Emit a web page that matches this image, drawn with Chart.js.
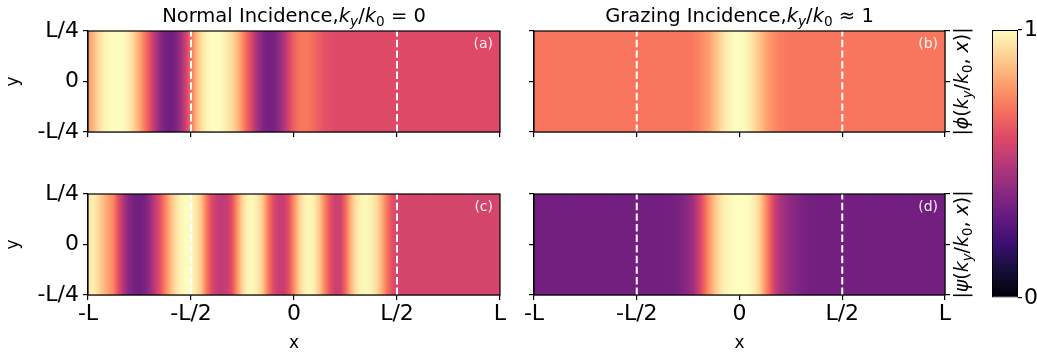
<!DOCTYPE html>
<html>
<head>
<meta charset="utf-8">
<script src="https://cdn.jsdelivr.net/npm/chart.js@4.4.1/dist/chart.umd.min.js"></script>
<style>
  html, body { margin: 0; padding: 0; background: #fff; }
  #wrap { position: relative; width: 1037px; height: 357px; }
  #wrap canvas { position: absolute; left: 0; top: 0; }
</style>
</head>
<body>
<div id="wrap">
  <canvas id="panelA" width="1037" height="357"></canvas>
  <canvas id="panelB" width="1037" height="357"></canvas>
  <canvas id="panelC" width="1037" height="357"></canvas>
  <canvas id="panelD" width="1037" height="357"></canvas>
  <canvas id="cbar" width="1037" height="357"></canvas>
</div>
<script>
// sample positions along x, in units of L
const xPos = [-1, -0.975, -0.95, -0.925, -0.9, -0.875, -0.85, -0.825, -0.8, -0.775,
  -0.75, -0.725, -0.7, -0.675, -0.65, -0.625, -0.6, -0.575, -0.55, -0.525,
  -0.5, -0.475, -0.45, -0.425, -0.4, -0.375, -0.35, -0.325, -0.3, -0.275,
  -0.25, -0.225, -0.2, -0.175, -0.15, -0.125, -0.1, -0.075, -0.05, -0.025,
  0, 0.025, 0.05, 0.075, 0.1, 0.125, 0.15, 0.175, 0.2, 0.225,
  0.25, 0.275, 0.3, 0.325, 0.35, 0.375, 0.4, 0.425, 0.45, 0.475,
  0.5, 0.525, 0.55, 0.575, 0.6, 0.625, 0.65, 0.675, 0.7, 0.725,
  0.75, 0.775, 0.8, 0.825, 0.85, 0.875, 0.9, 0.925, 0.95, 0.975, 1];

// (a) |phi|, normal incidence
const phiNormal = [0.78, 0.85, 0.92, 0.97, 0.99, 1.00, 1.00, 0.99, 0.96, 0.90,
  0.82, 0.72, 0.62, 0.50, 0.40, 0.34, 0.33, 0.36, 0.44, 0.56,
  0.70, 0.84, 0.93, 0.98, 1.00, 1.00, 0.99, 0.96, 0.92, 0.86,
  0.76, 0.66, 0.56, 0.44, 0.37, 0.34, 0.35, 0.40, 0.48, 0.58,
  0.66, 0.71, 0.72, 0.71, 0.68, 0.65, 0.62, 0.61, 0.60, 0.60,
  0.60, 0.60, 0.60, 0.60, 0.60, 0.60, 0.60, 0.60, 0.60, 0.60,
  0.60, 0.60, 0.60, 0.60, 0.60, 0.60, 0.60, 0.60, 0.60, 0.60,
  0.60, 0.60, 0.60, 0.60, 0.60, 0.60, 0.60, 0.60, 0.60, 0.60, 0.60];

// (b) |phi|, grazing incidence
const phiGrazing = [0.71, 0.71, 0.71, 0.71, 0.71, 0.71, 0.71, 0.71, 0.71, 0.71,
  0.71, 0.71, 0.71, 0.71, 0.71, 0.71, 0.71, 0.71, 0.71, 0.71,
  0.71, 0.71, 0.71, 0.71, 0.71, 0.71, 0.71, 0.71, 0.71, 0.71,
  0.71, 0.72, 0.74, 0.77, 0.80, 0.85, 0.90, 0.95, 0.98, 1.00,
  1.00, 0.99, 0.96, 0.92, 0.87, 0.82, 0.78, 0.75, 0.73, 0.72,
  0.71, 0.71, 0.71, 0.71, 0.71, 0.71, 0.71, 0.71, 0.71, 0.71,
  0.71, 0.71, 0.71, 0.71, 0.71, 0.71, 0.71, 0.71, 0.71, 0.71,
  0.71, 0.71, 0.71, 0.71, 0.71, 0.71, 0.71, 0.71, 0.71, 0.71, 0.71];

// (c) |psi|, normal incidence
const psiNormal = [0.95, 0.97, 0.92, 0.86, 0.80, 0.74, 0.60, 0.47, 0.38, 0.34,
  0.33, 0.35, 0.42, 0.52, 0.62, 0.74, 0.85, 0.93, 0.98, 1.00,
  0.99, 0.95, 0.88, 0.72, 0.60, 0.54, 0.52, 0.54, 0.62, 0.78,
  0.92, 0.98, 0.99, 0.95, 0.88, 0.72, 0.60, 0.54, 0.54, 0.62,
  0.76, 0.90, 0.97, 0.99, 0.96, 0.88, 0.74, 0.62, 0.55, 0.56,
  0.68, 0.84, 0.94, 0.98, 0.99, 0.97, 0.93, 0.84, 0.72, 0.62,
  0.58, 0.575, 0.575, 0.575, 0.575, 0.575, 0.575, 0.575, 0.575, 0.575,
  0.575, 0.575, 0.575, 0.575, 0.575, 0.575, 0.575, 0.575, 0.575, 0.575, 0.575];

// (d) |psi|, grazing incidence
const psiGrazing = [0.335, 0.335, 0.335, 0.335, 0.335, 0.335, 0.335, 0.335, 0.335, 0.335,
  0.335, 0.335, 0.335, 0.335, 0.335, 0.335, 0.335, 0.335, 0.335, 0.335,
  0.335, 0.335, 0.335, 0.335, 0.335, 0.335, 0.335, 0.34, 0.35, 0.37,
  0.40, 0.45, 0.54, 0.65, 0.77, 0.86, 0.93, 0.97, 0.99, 1.00,
  1.00, 1.00, 0.99, 0.96, 0.90, 0.78, 0.66, 0.54, 0.47, 0.43,
  0.40, 0.38, 0.36, 0.345, 0.335, 0.335, 0.335, 0.335, 0.335, 0.335,
  0.335, 0.335, 0.335, 0.335, 0.335, 0.335, 0.335, 0.335, 0.335, 0.335,
  0.335, 0.335, 0.335, 0.335, 0.335, 0.335, 0.335, 0.335, 0.335, 0.335, 0.335];

const xTickVals = [-1, -0.5, 0, 0.5, 1];
const xTickLabels = ['-L', '-L/2', '0', 'L/2', 'L'];
const yTickVals = [-0.25, 0, 0.25];
const yTickLabels = ['-L/4', '0', 'L/4'];
const guideX = [-0.5, 0.5];       // dashed white lines
const cbTicks = [0, 1];

// magma colormap, 11 stops
const magmaStops = ['#000004', '#140e36', '#3b0f70', '#641a80', '#8c2981', '#b73779',
  '#de4968', '#f7705c', '#fe9f6d', '#fecf92', '#fcfdbf'];
const magmaRgb = magmaStops.map(h => [1, 3, 5].map(k => parseInt(h.substr(k, 2), 16)));

function magma(v) {
  v = Math.max(0, Math.min(1, v)) * 10;
  const i = Math.min(9, Math.floor(v)), t = v - i;
  const a = magmaRgb[i], b = magmaRgb[i + 1];
  const c = a.map((q, k) => Math.round(q + (b[k] - q) * t));
  return 'rgb(' + c.join(',') + ')';
}

const W = 1037, H = 357;
Chart.defaults.font.family = "'DejaVu Sans', sans-serif";
Chart.defaults.color = '#000';

// per-bar horizontal gradient so the strip looks continuous
function stripFill(vals) {
  return function (ctx) {
    const chart = ctx.chart, i = ctx.dataIndex;
    const sx = chart.scales.x;
    if (!sx || !chart.chartArea || i === undefined) return magma(vals[0]);
    const i0 = Math.max(0, i - 1), i1 = Math.min(xPos.length - 1, i + 1);
    const p0 = sx.getPixelForValue(xPos[i0]), p1 = sx.getPixelForValue(xPos[i1]);
    if (p1 - p0 < 1) return magma(vals[i]);
    const g = chart.ctx.createLinearGradient(p0, 0, p1, 0);
    const pc = sx.getPixelForValue(xPos[i]);
    for (let s = 0; s <= 8; s++) {
      const t = s / 8;
      let v, px;
      if (t <= 0.5) { const u = t * 2; v = vals[i0] + (vals[i] - vals[i0]) * u; px = p0 + (pc - p0) * u; }
      else { const u = (t - 0.5) * 2; v = vals[i] + (vals[i1] - vals[i]) * u; px = pc + (p1 - pc) * u; }
      g.addColorStop((px - p0) / (p1 - p0), magma(v));
    }
    return g;
  };
}

// text with math-style italics and subscripts: [text, style]; style: n, i, sn, si
function richText(ctx, runs, cx, by, size) {
  const fontOf = st => (st.includes('i') ? 'italic ' : '') + (st[0] === 's' ? size * 0.7 : size) + "px 'DejaVu Sans'";
  let total = 0;
  const widths = runs.map(r => { ctx.font = fontOf(r[1]); const w = ctx.measureText(r[0]).width; total += w; return w; });
  let x = cx - total / 2;
  ctx.textAlign = 'left';
  ctx.textBaseline = 'alphabetic';
  runs.forEach((r, k) => {
    ctx.font = fontOf(r[1]);
    ctx.fillText(r[0], x, by + (r[1][0] === 's' ? size * 0.22 : 0));
    x += widths[k];
  });
}

const decor = {
  id: 'decor',
  afterDraw(chart, args, o) {
    const ctx = chart.ctx, a = chart.chartArea;
    ctx.save();
    ctx.fillStyle = '#000';
    if (o.frame) {
      ctx.strokeStyle = '#000';
      ctx.lineWidth = 1.2;
      ctx.strokeRect(a.left, a.top, a.right - a.left, a.bottom - a.top);
    }
    if (o.tag) {
      ctx.fillStyle = 'rgba(255,255,255,0.92)';
      ctx.font = "14px 'DejaVu Sans'";
      ctx.textAlign = 'right';
      ctx.textBaseline = 'middle';
      ctx.fillText(o.tag, a.right - 7, a.top + 13);
      ctx.fillStyle = '#000';
    }
    if (o.title) richText(ctx, o.title, (a.left + a.right) / 2, o.titleY, 19.5);
    if (o.side) {
      ctx.translate(o.sideX, (a.top + a.bottom) / 2);
      ctx.rotate(-Math.PI / 2);
      richText(ctx, o.side, 0, 19 * 0.35, 19);
    }
    ctx.restore();
  }
};

function makePanel(id, vals, box, opt) {
  const LW = 85, RW = opt.right ? 14 : 0, BH = opt.xLabels ? 59 : 14;
  const datasets = guideX.map(g => ({
    type: 'line',
    data: [{ x: g, y: yTickVals[0] }, { x: g, y: yTickVals[2] }],
    borderColor: '#fff', borderWidth: 2, borderDash: [7.4, 3.2],
    pointRadius: 0, clip: 0, yAxisID: 'y'
  }));
  datasets.push({
    type: 'bar',
    data: xPos.map(x => ({ x: x, y: [yTickVals[0], yTickVals[2]] })),
    backgroundColor: stripFill(vals),
    borderWidth: 0, barPercentage: 1.15, categoryPercentage: 1, clip: 0, yAxisID: 'y'
  });
  const tickGrid = { drawOnChartArea: false, drawTicks: true, tickLength: 5, color: '#000', lineWidth: 1.2, offset: false };
  const scales = {
    x: {
      type: 'linear', min: -1, max: 1, offset: false,
      afterBuildTicks: s => { s.ticks = xTickVals.map(v => ({ value: v })); },
      afterFit: s => { s.height = BH; s.paddingLeft = 0; s.paddingRight = 0; },
      ticks: { font: { size: 22 }, padding: 1, maxRotation: 0, autoSkip: false,
               callback: (v, i) => opt.xLabels ? xTickLabels[i] : '' },
      grid: tickGrid,
      border: { display: true, color: '#000', width: 1.2 },
      title: { display: !!opt.xLabels, text: 'x', font: { size: 17 }, padding: { top: 0, bottom: 0 } }
    },
    y: {
      type: 'linear', min: yTickVals[0], max: yTickVals[2], position: 'left',
      afterBuildTicks: s => { s.ticks = yTickVals.map(v => ({ value: v })); },
      afterFit: s => { s.width = LW; s.paddingTop = 0; s.paddingBottom = 0; },
      ticks: { font: { size: 22 }, padding: 4, callback: (v, i) => opt.yLabels ? yTickLabels[i] : '' },
      grid: tickGrid,
      border: { display: true, color: '#000', width: 1.2 },
      title: { display: !!opt.yLabels, text: 'y', font: { size: 17 }, padding: { top: 0, bottom: 0 } }
    }
  };
  if (opt.right) {
    scales.y2 = {
      type: 'linear', min: yTickVals[0], max: yTickVals[2], position: 'right',
      afterBuildTicks: s => { s.ticks = yTickVals.map(v => ({ value: v })); },
      afterFit: s => { s.width = RW; s.paddingTop = 0; s.paddingBottom = 0; },
      ticks: { callback: () => '' },
      grid: tickGrid,
      border: { display: true, color: '#000', width: 1.2 }
    };
  }
  return new Chart(document.getElementById(id), {
    type: 'bar',
    data: { datasets: datasets },
    options: {
      responsive: false, animation: false, devicePixelRatio: 1,
      layout: { padding: { left: box.l - LW, top: box.t, right: W - box.r - RW, bottom: H - box.b - BH } },
      plugins: {
        legend: { display: false }, tooltip: { enabled: false },
        decor: Object.assign({ frame: true }, opt.decor)
      },
      scales: scales
    },
    plugins: [decor]
  });
}

const titleNormal = [['Normal Incidence,', 'n'], ['k', 'i'], ['y', 'si'], ['/', 'n'], ['k', 'i'], ['0', 'sn'], [' = 0', 'n']];
const titleGrazing = [['Grazing Incidence,', 'n'], ['k', 'i'], ['y', 'si'], ['/', 'n'], ['k', 'i'], ['0', 'sn'], [' \u2248 1', 'n']];
const sidePhi = [['|', 'n'], ['\u03d5', 'i'], ['(', 'n'], ['k', 'i'], ['y', 'si'], ['/', 'n'], ['k', 'i'], ['0', 'sn'], [', ', 'n'], ['x', 'i'], [')|', 'n']];
const sidePsi = [['|', 'n'], ['\u03c8', 'i'], ['(', 'n'], ['k', 'i'], ['y', 'si'], ['/', 'n'], ['k', 'i'], ['0', 'sn'], [', ', 'n'], ['x', 'i'], [')|', 'n']];

makePanel('panelA', phiNormal, { l: 88, r: 500, t: 31, b: 132 },
  { yLabels: true, decor: { tag: '(a)', title: titleNormal, titleY: 22 } });
makePanel('panelB', phiGrazing, { l: 534, r: 945, t: 31, b: 132 },
  { right: true, decor: { tag: '(b)', title: titleGrazing, titleY: 22, side: sidePhi, sideX: 961 } });
makePanel('panelC', psiNormal, { l: 88, r: 500, t: 194, b: 295 },
  { yLabels: true, xLabels: true, decor: { tag: '(c)' } });
makePanel('panelD', psiGrazing, { l: 534, r: 945, t: 194, b: 295 },
  { right: true, xLabels: true, decor: { tag: '(d)', side: sidePsi, sideX: 961 } });

// colorbar
function cbFill(ctx) {
  const chart = ctx.chart, sy = chart.scales.y;
  if (!sy || !chart.chartArea) return magma(0.5);
  const g = chart.ctx.createLinearGradient(0, sy.getPixelForValue(cbTicks[0]), 0, sy.getPixelForValue(cbTicks[1]));
  magmaStops.forEach((c, k) => g.addColorStop(k / (magmaStops.length - 1), c));
  return g;
}

new Chart(document.getElementById('cbar'), {
  type: 'bar',
  data: {
    labels: ['cb'],
    datasets: [{
      data: [[cbTicks[0], cbTicks[1]]],
      backgroundColor: cbFill, borderColor: '#000', borderWidth: 1, borderSkipped: false,
      barPercentage: 1, categoryPercentage: 1, inflateAmount: 0
    }]
  },
  options: {
    responsive: false, animation: false, devicePixelRatio: 1,
    layout: { padding: { left: 992, right: 0, top: 30, bottom: H - 298 } },
    plugins: { legend: { display: false }, tooltip: { enabled: false } },
    scales: {
      x: { display: false },
      y: {
        position: 'right', min: cbTicks[0], max: cbTicks[1],
        afterBuildTicks: s => { s.ticks = cbTicks.map(v => ({ value: v })); },
        afterFit: s => { s.width = W - 1018; s.paddingTop = 0; s.paddingBottom = 0; },
        ticks: { font: { size: 22 }, padding: 2, callback: v => String(v) },
        grid: { drawOnChartArea: false, tickLength: 4, color: '#000', lineWidth: 1.2 },
        border: { display: false }
      }
    }
  }
});
</script>
</body>
</html>
